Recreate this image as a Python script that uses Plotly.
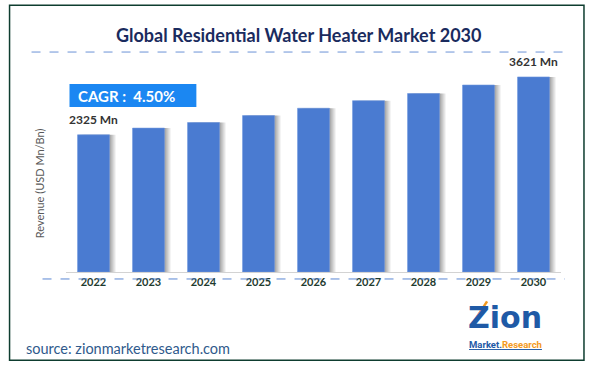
import plotly.graph_objects as go

years = ["2022", "2023", "2024", "2025", "2026", "2027", "2028", "2029", "2030"]
revenue = [2325, 2475, 2600, 2755, 2920, 3090, 3250, 3440, 3621]
label_text = {"2022": "2325 Mn", "2030": "3621 Mn"}
axis_min = -748
axis_max = 3889

W, H = 594, 368
ML, MR, MT, MB = 65.5, 33, 65, 95.5
PW = W - ML - MR
PH = H - MT - MB


def px(x):
    return (x - ML) / PW


def py(y):
    return (H - MB - y) / PH


fig = go.Figure()

# soft shadows to the right of bars
for shift, alpha in [(6, 0.10), (4, 0.12), (2, 0.14)]:
    fig.add_trace(go.Bar(
        x=years, y=[v - axis_min for v in revenue], base=axis_min,
        width=0.58, offset=-0.29 + shift / 55.06,
        marker=dict(color=f"rgba(0,0,0,{alpha})", line=dict(width=0)),
        hoverinfo="skip", showlegend=False))

fig.add_trace(go.Bar(
    x=years, y=[v - axis_min for v in revenue], base=axis_min,
    width=0.58, offset=-0.29,
    marker=dict(color="#4A7BD1", line=dict(color="#6C96DE", width=0.6)),
    showlegend=False))

for yr, txt in label_text.items():
    i = years.index(yr)
    fig.add_annotation(x=i, y=revenue[i], text=f"<b>{txt}</b>",
                       showarrow=False, xanchor="center", yanchor="bottom", yshift=6,
                       font=dict(family="Lato", size=12, color="#333333"))

shapes = [
    # outer frame
    dict(type="rect", xref="paper", yref="paper", x0=px(9), x1=px(584), y0=py(5), y1=py(361),
         line=dict(color="#0E3D2F", width=1.5), fillcolor="rgba(0,0,0,0)", layer="above"),
    # top dashed line
    dict(type="line", xref="paper", yref="paper", x0=px(31), x1=px(571), y0=py(52), y1=py(52),
         line=dict(color="#6B93D6", width=1, dash="dash")),
    # bottom dashed line
    dict(type="line", xref="paper", yref="paper", x0=px(42), x1=px(565), y0=py(279.5), y1=py(279.5),
         line=dict(color="#5A86D3", width=1, dash="dash")),
    # CAGR box
    dict(type="rect", xref="paper", yref="paper", x0=px(69), x1=px(196), y0=py(84), y1=py(107),
         line=dict(width=0), fillcolor="#1B87F2"),
    # orange accent stroke of the logo
    dict(type="line", xref="paper", yref="paper", x0=px(474), x1=px(487), y0=py(322), y1=py(302),
         line=dict(color="#F39A1E", width=2.5)),
]

annotations = [
    dict(text="<b>Global Residential Water Heater Market 2030</b>", x=px(298), y=py(35),
         xanchor="center", font=dict(family="Lato", size=18, color="#1A2B5E")),
    dict(text="<b>CAGR :  4.50%</b>", x=px(76), y=py(96), xanchor="left",
         font=dict(family="Lato", size=15, color="white")),
    dict(text="Revenue (USD Mn/Bn)", x=px(39), y=py(184), textangle=-90, xanchor="center",
         font=dict(family="Lato", size=11, color="#595959")),
    dict(text="source: zionmarketresearch.com", x=px(23), y=py(349), xanchor="left",
         font=dict(family="Lato", size=14.5, color="#2F5A8C")),
    dict(text="<b>Zion</b>", x=px(505), y=py(318), xanchor="center",
         font=dict(family="DejaVu Sans", size=30, color="#1F5AA6")),
    dict(text="<b><u>Market.<span style='color:#F39A1E'>Research</span></u></b>", x=px(505), y=py(345.5),
         xanchor="center", font=dict(family="Roboto", size=9.5, color="#1F5AA6")),
]
for a in annotations:
    a.update(xref="paper", yref="paper", showarrow=False, yanchor="middle")
    fig.add_annotation(**a)

fig.update_layout(
    width=W, height=H, autosize=False,
    margin=dict(l=ML, r=MR, t=MT, b=MB, pad=0),
    paper_bgcolor="white", plot_bgcolor="white",
    barmode="overlay", bargap=0.42,
    shapes=shapes,
    xaxis=dict(type="category", range=[-0.5, len(years) - 0.5], autorange=False,
               showline=True, linecolor="#D3D3D3", linewidth=1,
               ticks="", showgrid=False, zeroline=False,
               tickfont=dict(family="Lato", size=11, color="#1E3B2E", weight="bold")),
    yaxis=dict(range=[axis_min, axis_max], autorange=False, showticklabels=False, showgrid=False,
               zeroline=False, showline=False, ticks=""),
)

fig.write_html("out.html", config={"displayModeBar": False},
               post_script="document.body.style.margin='0';")
